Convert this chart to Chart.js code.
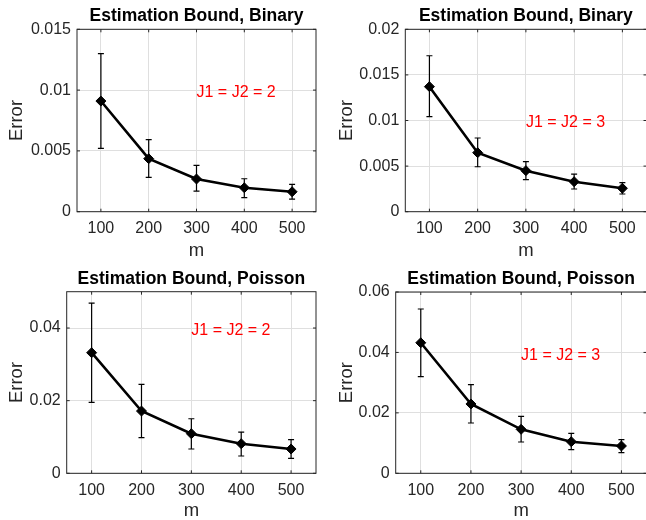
<!DOCTYPE html>
<html>
<head>
<meta charset="utf-8">
<script src="https://cdn.jsdelivr.net/npm/chart.js@4.4.1/dist/chart.umd.min.js"></script>
<style>
    html, body { margin: 0; padding: 0; background: #fff; overflow: hidden; }
    #wrap { position: relative; width: 646px; height: 520px; overflow: hidden; }
    #wrap canvas { position: absolute; }
</style>
</head>
<body>
<div id="wrap">
    <canvas id="binary2" width="323" height="260" style="left:0;top:0"></canvas>
    <canvas id="binary3" width="330" height="260" style="left:323px;top:0"></canvas>
    <canvas id="poisson2" width="323" height="260" style="left:0;top:260px"></canvas>
    <canvas id="poisson3" width="330" height="260" style="left:323px;top:260px"></canvas>
</div>
<script>
// data
const mValues = [100, 200, 300, 400, 500];
const xTicks = [100, 200, 300, 400, 500];

const binaryJ2 = [0.0091, 0.00436, 0.00269, 0.00197, 0.00164];
const binaryJ2Upper = [0.0130, 0.00592, 0.00381, 0.00271, 0.00225];
const binaryJ2Lower = [0.00521, 0.00283, 0.0017, 0.00115, 0.00104];

const binaryJ3 = [0.01371, 0.00647, 0.0045, 0.00329, 0.00257];
const binaryJ3Upper = [0.0171, 0.00808, 0.00548, 0.00413, 0.00318];
const binaryJ3Lower = [0.01042, 0.00493, 0.00351, 0.00249, 0.00194];

const poissonJ2 = [0.0332, 0.01714, 0.0109, 0.00815, 0.00669];
const poissonJ2Upper = [0.04685, 0.02448, 0.01502, 0.01136, 0.00925];
const poissonJ2Lower = [0.01953, 0.0098, 0.00669, 0.00476, 0.00413];

const poissonJ3 = [0.0432, 0.02294, 0.01456, 0.01046, 0.00904];
const poissonJ3Upper = [0.05437, 0.02932, 0.01886, 0.01324, 0.01112];
const poissonJ3Lower = [0.03197, 0.01665, 0.01036, 0.00781, 0.00682];

const yTicksBinaryJ2 = [0, 0.005, 0.01, 0.015];
const yTicksBinaryJ3 = [0, 0.005, 0.01, 0.015, 0.02];
const yTicksPoissonJ2 = [0, 0.02, 0.04];
const yTicksPoissonJ3 = [0, 0.02, 0.04, 0.06];

const FONT = "'Liberation Sans', Arial, Helvetica, sans-serif";
const AXIS_COLOR = "#262626";

// error bars, red note, box and inward ticks (MATLAB look)
const panelDecor = {
    id: "panelDecor",
    afterDatasetsDraw(chart, args, opts) {
        const { ctx, scales: { x, y } } = chart;
        ctx.save();
        ctx.strokeStyle = "#000";
        ctx.lineWidth = 1.2;
        opts.values.forEach((v, i) => {
            const px = x.getPixelForValue(opts.xs[i]);
            const top = y.getPixelForValue(opts.upper[i]);
            const bot = y.getPixelForValue(opts.lower[i]);
            ctx.beginPath();
            ctx.moveTo(px, top); ctx.lineTo(px, bot);
            ctx.moveTo(px - 3, top); ctx.lineTo(px + 3, top);
            ctx.moveTo(px - 3, bot); ctx.lineTo(px + 3, bot);
            ctx.stroke();
        });
        // annotation
        ctx.fillStyle = "#ff0000";
        ctx.font = "16px " + FONT;
        ctx.textAlign = "left";
        ctx.textBaseline = "middle";
        ctx.fillText(opts.note, x.getPixelForValue(opts.noteX), y.getPixelForValue(opts.noteY));
        ctx.restore();
    },
    afterDraw(chart) {
        const { ctx, chartArea: a, scales: { x, y } } = chart;
        const t = 3;
        ctx.save();
        ctx.strokeStyle = AXIS_COLOR;
        ctx.lineWidth = 1;
        ctx.beginPath();
        x.ticks.forEach(tk => {
            const px = x.getPixelForValue(tk.value);
            ctx.moveTo(px, a.bottom); ctx.lineTo(px, a.bottom - t);
            ctx.moveTo(px, a.top); ctx.lineTo(px, a.top + t);
        });
        y.ticks.forEach(tk => {
            const py = y.getPixelForValue(tk.value);
            ctx.moveTo(a.left, py); ctx.lineTo(a.left + t, py);
            ctx.moveTo(a.right, py); ctx.lineTo(a.right - t, py);
        });
        ctx.stroke();
        ctx.strokeRect(a.left, a.top, a.right - a.left, a.bottom - a.top);
        ctx.restore();
    }
};

function makePanel(id, p) {
    const ctx = document.getElementById(id).getContext("2d");
    new Chart(ctx, {
        type: "line",
        data: {
            datasets: [{
                data: mValues.map((m, i) => ({ x: m, y: p.values[i] })),
                borderColor: "#000",
                backgroundColor: "#000",
                borderWidth: 2.6,
                pointStyle: "rectRot",
                pointRadius: 5,
                pointBorderWidth: 1,
                tension: 0,
            }],
        },
        options: {
            responsive: false,
            animation: false,
            layout: { padding: { top: p.padTop, right: p.padRight, left: 0, bottom: 0 } },
            plugins: {
                legend: { display: false },
                tooltip: { enabled: false },
                title: {
                    display: true,
                    text: p.title,
                    fullSize: false,
                    color: "#000",
                    font: { family: FONT, size: 17.5, weight: "bold", lineHeight: 1.2 },
                    padding: { top: 0, bottom: p.titleGap },
                },
                panelDecor: {
                    xs: mValues,
                    values: p.values,
                    upper: p.upper,
                    lower: p.lower,
                    note: p.note,
                    noteX: 300,
                    noteY: p.noteY,
                },
            },
            scales: {
                x: {
                    type: "linear",
                    min: 50,
                    max: 550,
                    afterBuildTicks: s => { s.ticks = xTicks.map(v => ({ value: v })); },
                    afterFit: s => { s.height = p.xHeight; },
                    grid: { color: "#dfdfdf", drawTicks: false },
                    border: { display: false },
                    ticks: { color: AXIS_COLOR, padding: 7.5, font: { family: FONT, size: 16 } },
                    title: {
                        display: true, text: "m", color: AXIS_COLOR,
                        font: { family: FONT, size: 18.5, lineHeight: 1.2 },
                        padding: { top: 0, bottom: -2 },
                    },
                },
                y: {
                    min: 0,
                    max: p.yMax,
                    afterBuildTicks: s => { s.ticks = p.yTicks.map(v => ({ value: v })); },
                    afterFit: s => { s.width = p.yWidth; },
                    grid: { color: "#dfdfdf", drawTicks: false },
                    border: { display: false },
                    ticks: {
                        color: AXIS_COLOR, padding: 6,
                        font: { family: FONT, size: 16 },
                        callback: v => String(v),
                    },
                    title: {
                        display: true, text: "Error", color: AXIS_COLOR,
                        font: { family: FONT, size: 18.5, lineHeight: 1.2 },
                        padding: { top: p.yTitlePad, bottom: 0 },
                    },
                },
            },
        },
        plugins: [panelDecor],
    });
}

makePanel("binary2", {
    title: "Estimation Bound, Binary", values: binaryJ2, upper: binaryJ2Upper, lower: binaryJ2Lower,
    yMax: 0.015, yTicks: yTicksBinaryJ2, note: "J1 = J2 = 2", noteY: 0.0098,
    padTop: 5.8, titleGap: 2.5, padRight: 7, yWidth: 77, xHeight: 48.3, yTitlePad: 5.6,
});
makePanel("binary3", {
    title: "Estimation Bound, Binary", values: binaryJ3, upper: binaryJ3Upper, lower: binaryJ3Lower,
    yMax: 0.02, yTicks: yTicksBinaryJ3, note: "J1 = J2 = 3", noteY: 0.0098,
    padTop: 5.8, titleGap: 2.5, padRight: 6.5, yWidth: 82.3, xHeight: 48.3, yTitlePad: 12.6,
});
makePanel("poisson2", {
    title: "Estimation Bound, Poisson", values: poissonJ2, upper: poissonJ2Upper, lower: poissonJ2Lower,
    yMax: 0.05, yTicks: yTicksPoissonJ2, note: "J1 = J2 = 2", noteY: 0.0394,
    padTop: 8.3, titleGap: 2.4, padRight: 7, yWidth: 66.7, xHeight: 46.7, yTitlePad: 5.6,
});
makePanel("poisson3", {
    title: "Estimation Bound, Poisson", values: poissonJ3, upper: poissonJ3Upper, lower: poissonJ3Lower,
    yMax: 0.06, yTicks: yTicksPoissonJ3, note: "J1 = J2 = 3", noteY: 0.0391,
    padTop: 8.7, titleGap: 2.3, padRight: 6.5, yWidth: 72.7, xHeight: 46.7, yTitlePad: 12.6,
});
</script>
</body>
</html>
